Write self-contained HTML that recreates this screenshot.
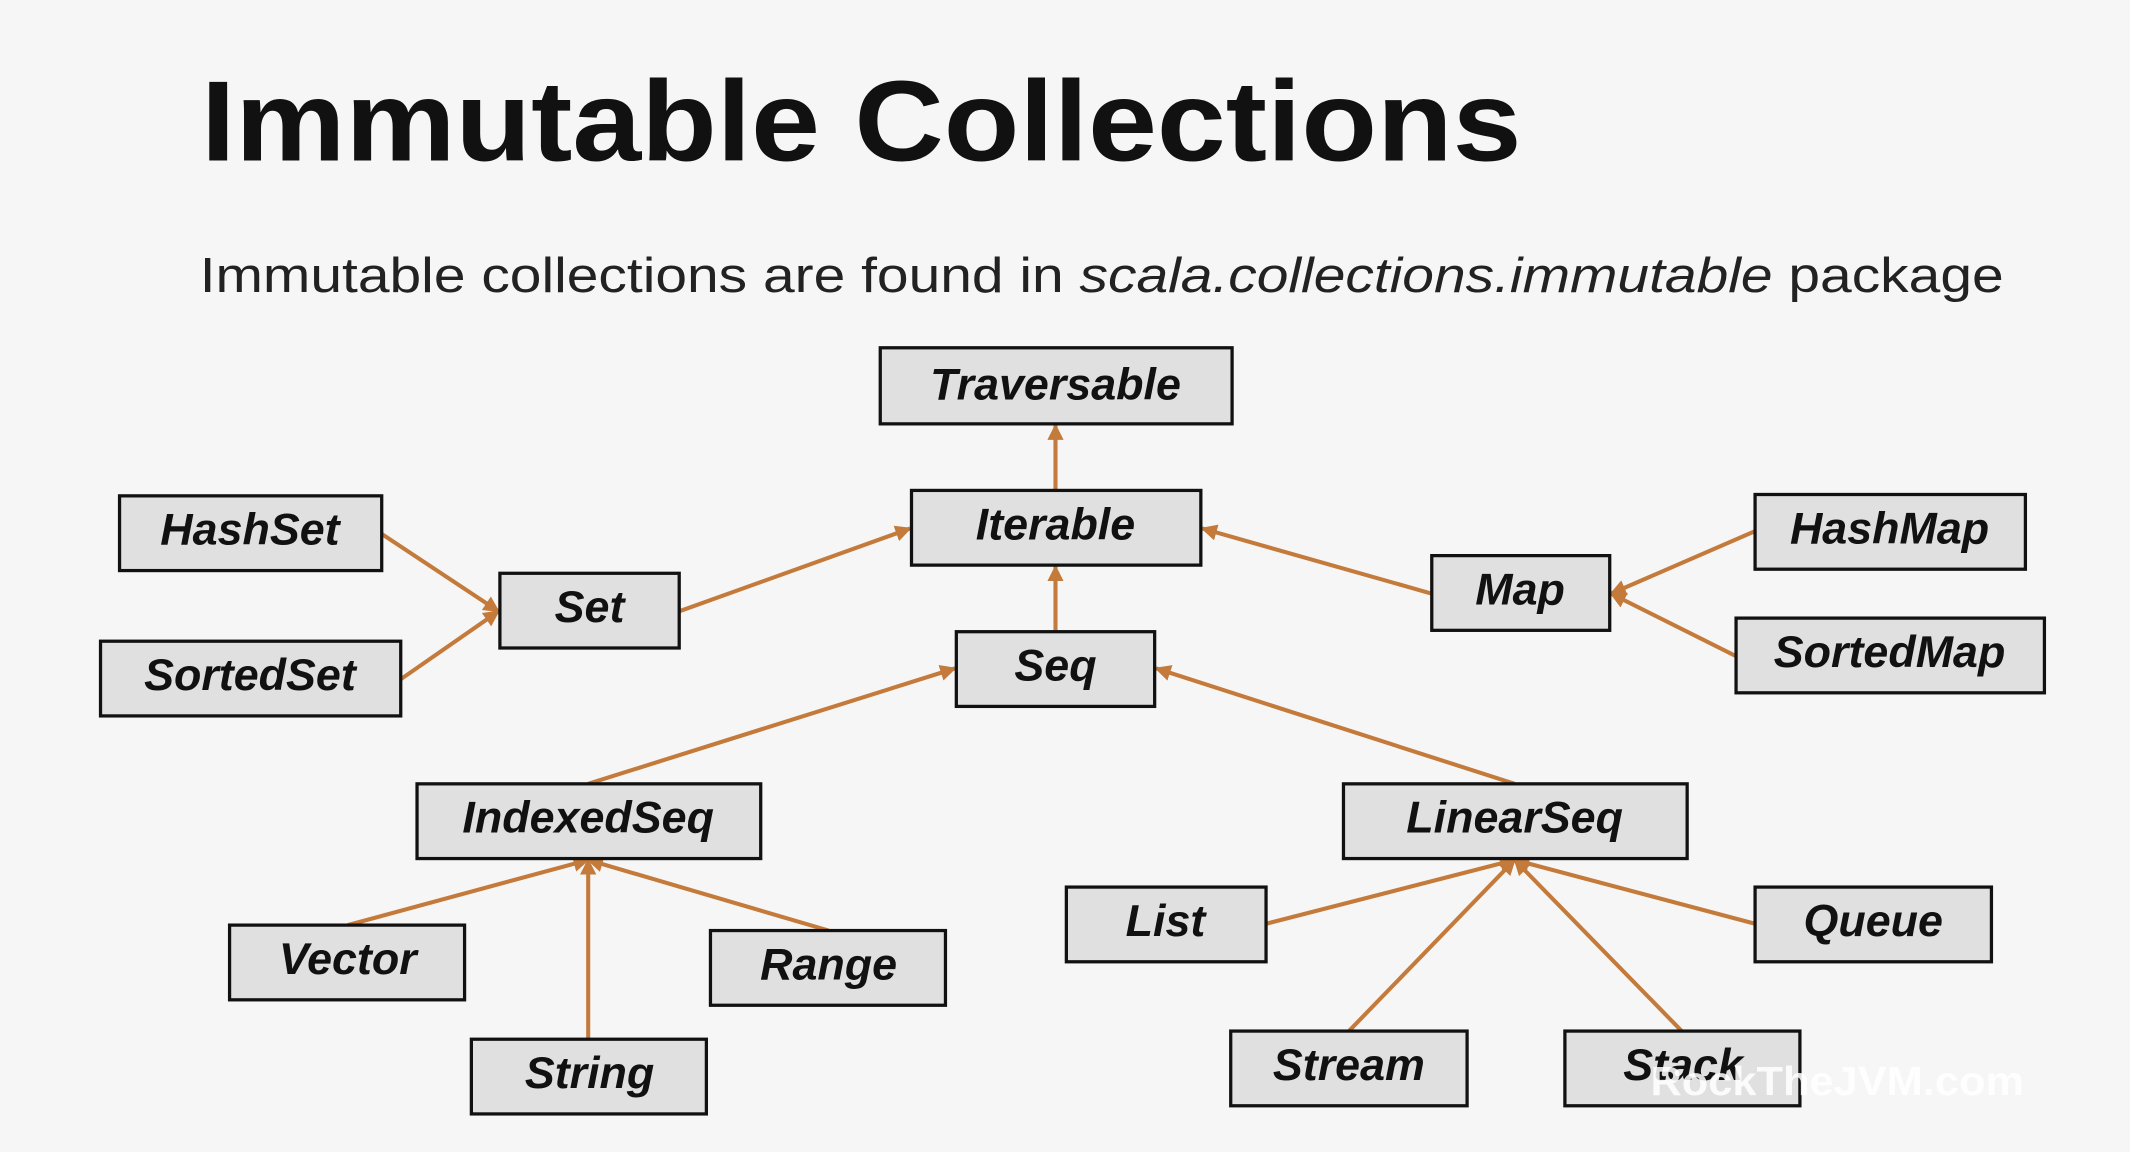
<!DOCTYPE html>
<html><head><meta charset="utf-8"><style>
html,body{margin:0;padding:0;background:#f6f6f6;}
svg{display:block}
.b{fill:#e0e0e0;stroke:#111;stroke-width:2.4}
.t{font-family:"Liberation Sans",sans-serif;font-weight:bold;font-style:italic;font-size:33px;fill:#111;text-anchor:middle}
.l{stroke:#c47a3a;stroke-width:3;fill:none}
</style></head><body>
<svg width="2130" height="1152" viewBox="0 0 1568 848" xmlns="http://www.w3.org/2000/svg">
<defs><marker id="a" viewBox="0 0 10 10" refX="9" refY="5" markerWidth="4" markerHeight="4" orient="auto"><path d="M0,0L10,5L0,10z" fill="#c47a3a"/></marker></defs>
<rect width="1568" height="848" fill="#f6f6f6"/>
<text x="148" y="118" font-family="Liberation Sans,sans-serif" font-weight="bold" font-size="84" fill="#111" textLength="972" lengthAdjust="spacingAndGlyphs">Immutable Collections</text>
<text x="147" y="215" font-family="Liberation Sans,sans-serif" font-size="36" fill="#222" textLength="1328" lengthAdjust="spacingAndGlyphs">Immutable collections are found in <tspan font-style="italic">scala.collections.immutable</tspan> package</text>
<g class="l" marker-end="url(#a)">
<line x1="777" y1="361" x2="777" y2="313"/>
<line x1="777" y1="465" x2="777" y2="417"/>
<line x1="500" y1="450" x2="670" y2="389"/>
<line x1="1054" y1="437" x2="885" y2="389"/>
<line x1="281" y1="393" x2="367" y2="450"/>
<line x1="295" y1="500" x2="367" y2="450"/>
<line x1="1292" y1="391" x2="1186" y2="437"/>
<line x1="1278" y1="483" x2="1186" y2="437"/>
<line x1="433" y1="577" x2="703" y2="492"/>
<line x1="1115" y1="577" x2="851" y2="492"/>
<line x1="256" y1="681" x2="433" y2="633"/>
<line x1="433" y1="765" x2="433" y2="633"/>
<line x1="610" y1="685" x2="433" y2="633"/>
<line x1="932" y1="680" x2="1115" y2="633"/>
<line x1="993" y1="759" x2="1115" y2="633"/>
<line x1="1238" y1="759" x2="1115" y2="633"/>
<line x1="1292" y1="680" x2="1115" y2="633"/>
</g>
<g>
<rect class="b" x="648" y="256" width="259" height="56"/><text class="t" x="777" y="294">Traversable</text>
<rect class="b" x="671" y="361" width="213" height="55"/><text class="t" x="777" y="397">Iterable</text>
<rect class="b" x="88" y="365" width="193" height="55"/><text class="t" x="184" y="401">HashSet</text>
<rect class="b" x="368" y="422" width="132" height="55"/><text class="t" x="434" y="458">Set</text>
<rect class="b" x="74" y="472" width="221" height="55"/><text class="t" x="184" y="508">SortedSet</text>
<rect class="b" x="704" y="465" width="146" height="55"/><text class="t" x="777" y="501">Seq</text>
<rect class="b" x="1054" y="409" width="131" height="55"/><text class="t" x="1119" y="445">Map</text>
<rect class="b" x="1292" y="364" width="199" height="55"/><text class="t" x="1391" y="400">HashMap</text>
<rect class="b" x="1278" y="455" width="227" height="55"/><text class="t" x="1391" y="491">SortedMap</text>
<rect class="b" x="307" y="577" width="253" height="55"/><text class="t" x="433" y="613">IndexedSeq</text>
<rect class="b" x="989" y="577" width="253" height="55"/><text class="t" x="1115" y="613">LinearSeq</text>
<rect class="b" x="169" y="681" width="173" height="55"/><text class="t" x="256" y="717">Vector</text>
<rect class="b" x="523" y="685" width="173" height="55"/><text class="t" x="610" y="721">Range</text>
<rect class="b" x="347" y="765" width="173" height="55"/><text class="t" x="434" y="801">String</text>
<rect class="b" x="785" y="653" width="147" height="55"/><text class="t" x="858" y="689">List</text>
<rect class="b" x="1292" y="653" width="174" height="55"/><text class="t" x="1379" y="689">Queue</text>
<rect class="b" x="906" y="759" width="174" height="55"/><text class="t" x="993" y="795">Stream</text>
<rect class="b" x="1152" y="759" width="173" height="55"/><text class="t" x="1239" y="795">Stack</text>
</g>
<text x="1215" y="806" font-family="Liberation Sans,sans-serif" font-weight="bold" font-size="30" fill="#ffffff" fill-opacity="0.85" textLength="275" lengthAdjust="spacingAndGlyphs">RockTheJVM.com</text>
</svg>
</body></html>
